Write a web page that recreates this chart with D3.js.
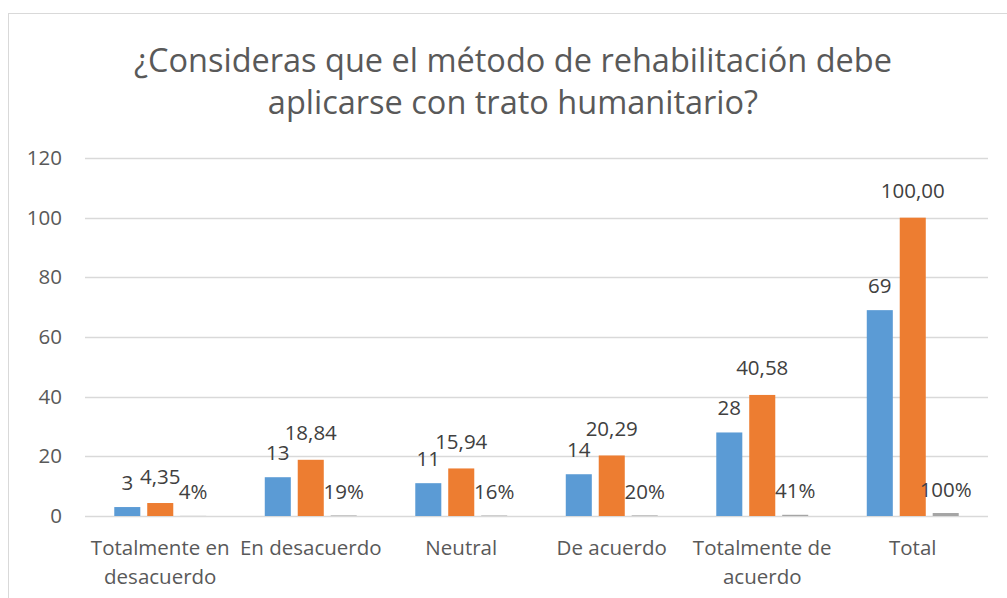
<!DOCTYPE html>
<html>
<head>
<meta charset="utf-8">
<script src="https://cdn.jsdelivr.net/npm/d3@7"></script>
<style>
  body { margin: 0; background: #fff; }
  text { font-family: "Open Sans", sans-serif; }
</style>
</head>
<body>
<div id="chart"></div>
<script>
// data
const categories = ["Totalmente en desacuerdo", "En desacuerdo", "Neutral", "De acuerdo", "Totalmente de acuerdo", "Total"];
const frecuencia = [3, 13, 11, 14, 28, 69];
const porcentaje = [4.35, 18.84, 15.94, 20.29, 40.58, 100.00];
const proporcion = [0.0435, 0.1884, 0.1594, 0.2029, 0.4058, 1.00];
const yTicks = [0, 20, 40, 60, 80, 100, 120];
const titleLines = ["¿Consideras que el método de rehabilitación debe", "aplicarse con trato humanitario?"];

const W = 1007, H = 598;
const plot = { left: 85, right: 988, top: 158, bottom: 516 };
const fs = 20.5;

const svg = d3.select("#chart").append("svg")
  .attr("width", W)
  .attr("height", H);

// chart frame
svg.append("rect")
  .attr("x", 8.5).attr("y", 13.5)
  .attr("width", 1010).attr("height", 600)
  .attr("fill", "#fff")
  .attr("stroke", "#d9d9d9");

// title
svg.append("g").selectAll("text")
  .data(titleLines)
  .join("text")
  .attr("x", 513)
  .attr("y", (d, i) => 72 + i * 42)
  .attr("text-anchor", "middle")
  .attr("font-size", 32.5)
  .attr("fill", "#595959")
  .text(d => d);

const y = d3.scaleLinear().domain([0, 120]).range([plot.bottom, plot.top]);

const x0 = d3.scaleBand()
  .domain(categories)
  .range([plot.left, plot.right])
  .paddingInner(0.389)
  .paddingOuter(0.389 / 2);

const series = [
  { key: "frecuencia", values: frecuencia, color: "#5b9bd5", fmt: d3.format("d"), off: 25 },
  { key: "porcentaje", values: porcentaje, color: "#ed7d31", fmt: d3.formatLocale({ decimal: ",", thousands: ".", grouping: [3], currency: ["", ""] }).format(".2f"), off: 27 },
  { key: "proporcion", values: proporcion, color: "#a5a5a5", fmt: d3.format(".0%"), off: 24 }
];

const x1 = d3.scaleBand()
  .domain(series.map(s => s.key))
  .range([0, x0.bandwidth()])
  .paddingInner(0.21);

// gridlines
svg.append("g").selectAll("line")
  .data(yTicks)
  .join("line")
  .attr("x1", plot.left).attr("x2", plot.right)
  .attr("y1", d => Math.round(y(d)) + 0.5)
  .attr("y2", d => Math.round(y(d)) + 0.5)
  .attr("stroke", "#d9d9d9")
  .attr("stroke-width", 1.3);

// y axis labels
const yAxis = svg.append("g")
  .attr("transform", `translate(${plot.left - 23},0)`)
  .call(d3.axisLeft(y).tickValues(yTicks).tickSize(0).tickPadding(0));
yAxis.select(".domain").remove();
yAxis.selectAll("text")
  .attr("font-size", fs)
  .attr("fill", "#595959")
  .attr("font-family", "Open Sans, sans-serif");

// bars
series.forEach(s => {
  const g = svg.append("g");
  g.selectAll("rect")
    .data(categories)
    .join("rect")
    .attr("x", (c) => x0(c) + x1(s.key))
    .attr("width", x1.bandwidth())
    .attr("y", (c, i) => y(s.values[i]))
    .attr("height", (c, i) => plot.bottom - y(s.values[i]))
    .attr("fill", s.color);

  g.selectAll("text")
    .data(categories)
    .join("text")
    .attr("x", c => x0(c) + x1(s.key) + x1.bandwidth() / 2)
    .attr("y", (c, i) => y(s.values[i]) - s.off + 7.5)
    .attr("text-anchor", "middle")
    .attr("font-size", fs)
    .attr("fill", "#404040")
    .text((c, i) => s.fmt(s.values[i]));
});

// category labels, wrapped like the original
const xLab = svg.append("g");
categories.forEach(c => {
  const cx = x0(c) + x0.bandwidth() / 2;
  const t = xLab.append("text")
    .attr("x", cx)
    .attr("y", 555)
    .attr("text-anchor", "middle")
    .attr("font-size", fs)
    .attr("fill", "#595959");
  const words = c.split(" ");
  let line = [];
  let tspan = t.append("tspan").attr("x", cx).attr("dy", 0);
  words.forEach(w => {
    line.push(w);
    tspan.text(line.join(" "));
    if (tspan.node().getComputedTextLength() > 150 && line.length > 1) {
      line.pop();
      tspan.text(line.join(" "));
      line = [w];
      tspan = t.append("tspan").attr("x", cx).attr("dy", 29).text(w);
    }
  });
});
</script>
</body>
</html>
